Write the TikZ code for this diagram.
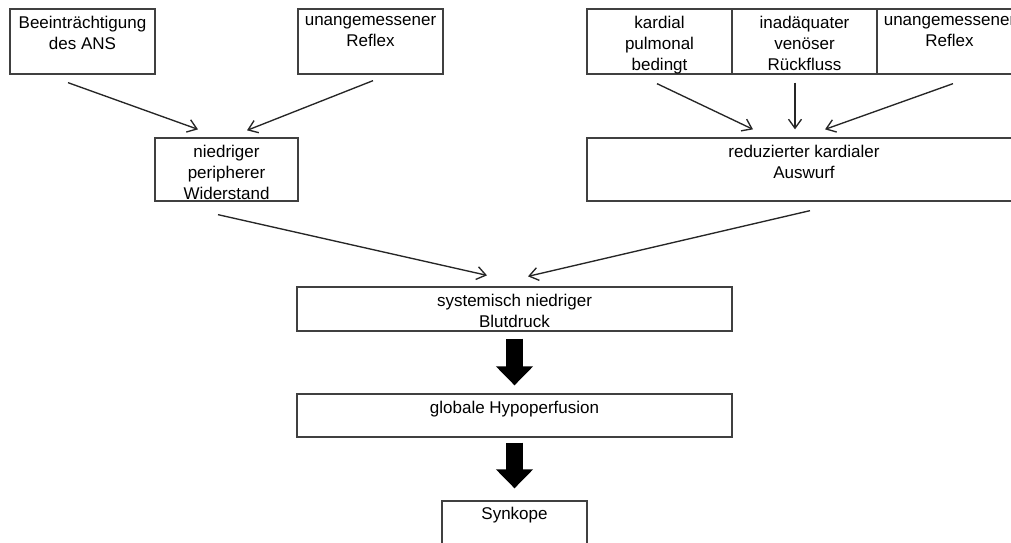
\documentclass[tikz,border=0pt]{standalone}
\usepackage{fontspec}
\setmainfont{Liberation Sans}
\usetikzlibrary{positioning,arrows.meta}

\tikzset{
  box/.style={draw=black!75, line width=1.3pt, inner sep=0pt, minimum width=145pt, minimum height=65pt},
  widebox/.style={box, minimum width=435pt},
  txt/.style={align=center, inner sep=0pt},
  pfeil/.style={draw=black!85, line width=1.35pt, -{Straight Barb[length=9pt,width=13pt]}},
  block/.style={line width=17pt, -{Triangle[length=19pt,width=36pt]}},
}

\begin{document}
\begin{tikzpicture}[x=1pt, y=1pt, every node/.style={font=\fontsize{17}{21}\selectfont}]
    \useasboundingbox (0,0) rectangle (1011,-542);

    % linke Seite
    \node[box] (ans) at (82.5,-41.5) {};
    \node[txt, below=7.5pt of ans.north] (ans-t) {Beeinträchtigung\\des ANS};
    \node[box] (refl1) at (370.5,-41.5) {};
    \node[txt, below=7.5pt of refl1.north] (refl1-t) {unangemessener\\Reflex};
    \node[box, minimum width=143pt, minimum height=63pt] (npw) at (226.5,-169.5) {};
    \node[txt, below=7.5pt of npw.north] (npw-t) {niedriger\\peripherer\\Widerstand};

    % rechte Seite
    \node[box] (kp) at (659.5,-41.5) {};
    \node[txt, below=7.5pt of kp.north] (kp-t) {kardial\\pulmonal\\bedingt};
    \node[box] (vr) at (804.5,-41.5) {};
    \node[txt, below=7.5pt of vr.north] (vr-t) {inadäquater\\venöser\\Rückfluss};
    \node[box] (refl2) at (949.5,-41.5) {};
    \node[txt, below=7.5pt of refl2.north] (refl2-t) {unangemessener\\Reflex};
    \node[widebox, minimum width=434pt, minimum height=63pt] (rka) at (804,-169.5) {};
    \node[txt, below=7.5pt of rka.north] (rka-t) {reduzierter kardialer\\Auswurf};

    % Mitte
    \node[widebox, minimum height=44pt] (snb) at (514.5,-309) {};
    \node[txt, below=7.5pt of snb.north] (snb-t) {systemisch niedriger\\Blutdruck};
    \node[widebox, minimum height=43pt] (ghp) at (514.5,-415.5) {};
    \node[txt, below=7.5pt of ghp.north] (ghp-t) {globale Hypoperfusion};
    \node[box] (syn) at (514.5,-533.5) {};
    \node[txt, below=7pt of syn.north] (syn-t) {Synkope};

    % Pfeile
    \draw[pfeil] ([shift={(-14.5,-8)}]ans.south) -- ([shift={(-28.5,8)}]npw.north);
    \draw[pfeil] ([shift={(2.5,-6)}]refl1.south) -- ([shift={(20.5,7)}]npw.north);
    \draw[pfeil] ([shift={(-2.5,-9)}]kp.south) -- ([shift={(-51,8)}]rka.north);
    \draw[pfeil] ([shift={(-9.5,-8)}]vr.south) -- ([shift={(-9,8)}]rka.north);
    \draw[pfeil] ([shift={(3.5,-9)}]refl2.south) -- ([shift={(21,8)}]rka.north);
    \draw[pfeil] ([shift={(-8.5,-13)}]npw.south) -- ([shift={(-27.5,11)}]snb.north);
    \draw[pfeil] ([shift={(6,-9)}]rka.south) -- ([shift={(13.5,10)}]snb.north);

    \draw[block] ([yshift=-7pt]snb.south) -- ([yshift=8pt]ghp.north);
    \draw[block] ([yshift=-5pt]ghp.south) -- ([yshift=12pt]syn.north);
\end{tikzpicture}
\end{document}
